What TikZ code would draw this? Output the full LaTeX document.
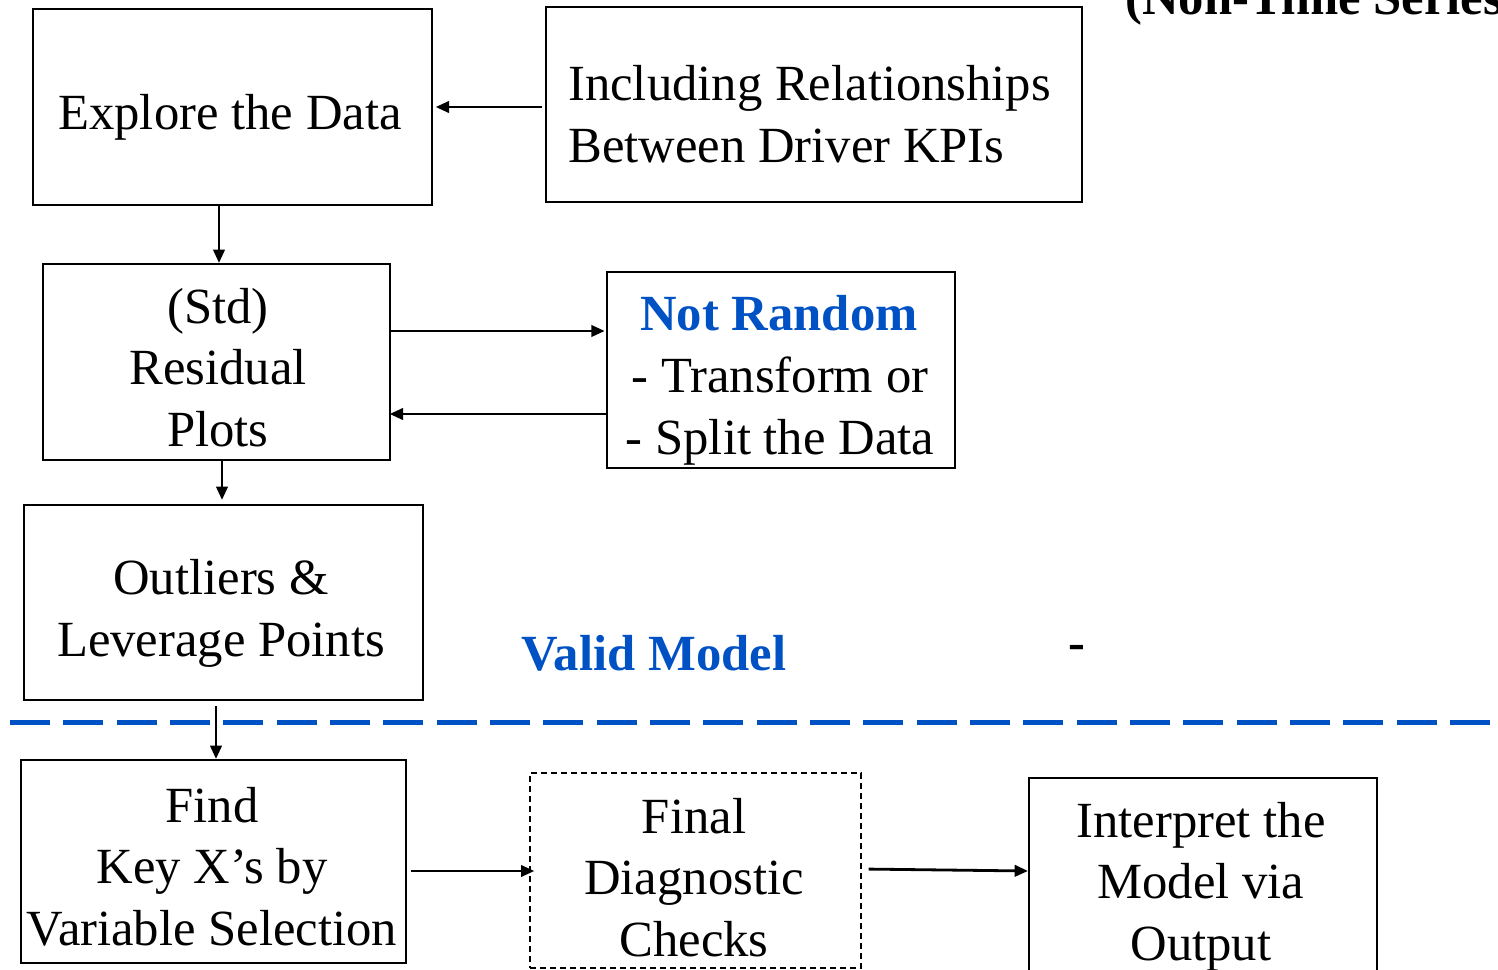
\documentclass[tikz,border=0pt]{standalone}
\usepackage{fontspec}
\setmainfont{Liberation Serif}
\usetikzlibrary{arrows.meta}
\definecolor{flowblue}{RGB}{0,82,196}
\tikzset{
  box/.style={draw=black, line width=1.5pt, inner sep=0pt},
  dbox/.style={box, dash pattern=on 4.5pt off 3pt},
  lbl/.style={inner sep=0pt, anchor=base, font=\fontsize{38}{46}\selectfont, align=center},
  lbll/.style={lbl, anchor=base west, align=left},
  hl/.style={lbl, text=flowblue, font=\fontsize{38}{46}\selectfont\bfseries},
  link/.style={line width=2.1pt, -{Triangle[length=10pt,width=8.5pt]}},
}
\begin{document}
\begin{tikzpicture}[x=0.75pt, y=-0.75pt]
\useasboundingbox (0,0) rectangle (1498,970);
\clip (0,0) rectangle (1498,970);

% boxes
\node[box, minimum width=299.25pt, minimum height=147pt] (explore) at (232.5,107) {};
\node[box, minimum width=402pt, minimum height=146.25pt] (incl) at (814,104.5) {};
\node[box, minimum width=260.25pt, minimum height=147pt] (std) at (216.5,362) {};
\node[box, minimum width=261pt, minimum height=147pt] (notr) at (781,370) {};
\node[box, minimum width=299.25pt, minimum height=146.25pt] (outl) at (223.5,602.5) {};
\node[box, minimum width=288.75pt, minimum height=152.25pt] (find) at (213.5,861.5) {};
\node[dbox, minimum width=248.25pt, minimum height=146.25pt] (final) at (695.5,870.5) {};
\node[box, minimum width=261pt, minimum height=146.25pt] (interp) at (1203,875.5) {};

% texts (multi-line nodes sit on the baseline of their last line)
\node[lbl] (t-explore) at (230,130) {Explore the Data};
\node[lbll] (t-incl) at (568,162) {Including Relationships\\Between Driver KPIs};
\node[lbl] (t-std) at (218,446) {(Std)\\Residual\\Plots};
\node[hl] (t-notr) at (779,330) {Not Random};
\node[lbl] (t-notr2) at (780,454) {- Transform or\\- Split the Data};
\node[lbl] (t-outl) at (221,656) {Outliers \&\\Leverage Points};
\node[hl] (t-valid) at (654,670) {Valid Model};
\node[lbl, font=\fontsize{38}{46}\selectfont\bfseries] (t-dash) at (1077,659) {-};
\node[lbl] (t-find) at (212,945) {Find\\Key X’s by\\Variable Selection};
\node[lbl] (t-final) at (694,956) {Final\\Diagnostic\\Checks};
\node[lbl] (t-interp) at (1201,960) {Interpret the\\Model via\\Output};
\node[lbll, font=\fontsize{38}{46}\selectfont\bfseries] (t-title) at (1125,15) {(Non-Time Series};

% divider
\draw[flowblue, line width=3.75pt, dash pattern=on 30pt off 10pt] (10,722) -- (1498,722);

% connectors
\draw[link, shorten <=2pt, shorten >=2pt] (incl.west |- 0,107) -- (explore.east |- 0,107);
\draw[link] (explore.south -| 219,0) -- (std.north -| 219,0);
\draw[link, shorten >=1pt] (std.east |- 0,331) -- (notr.west |- 0,331);
\draw[link, shorten >=-1pt] (notr.west |- 0,414) -- (std.east |- 0,414);
\draw[link] (std.south -| 222,0) -- (222,500);
\draw[link] (216,706) -- (find.north -| 216,0);
\draw[link, shorten <=3pt, shorten >=-4pt] (find.east |- 0,871) -- (final.west |- 0,871);
\draw[link, shorten <=5pt] (final.east |- 0,869) -- (interp.west |- 0,871);
\end{tikzpicture}
\end{document}
